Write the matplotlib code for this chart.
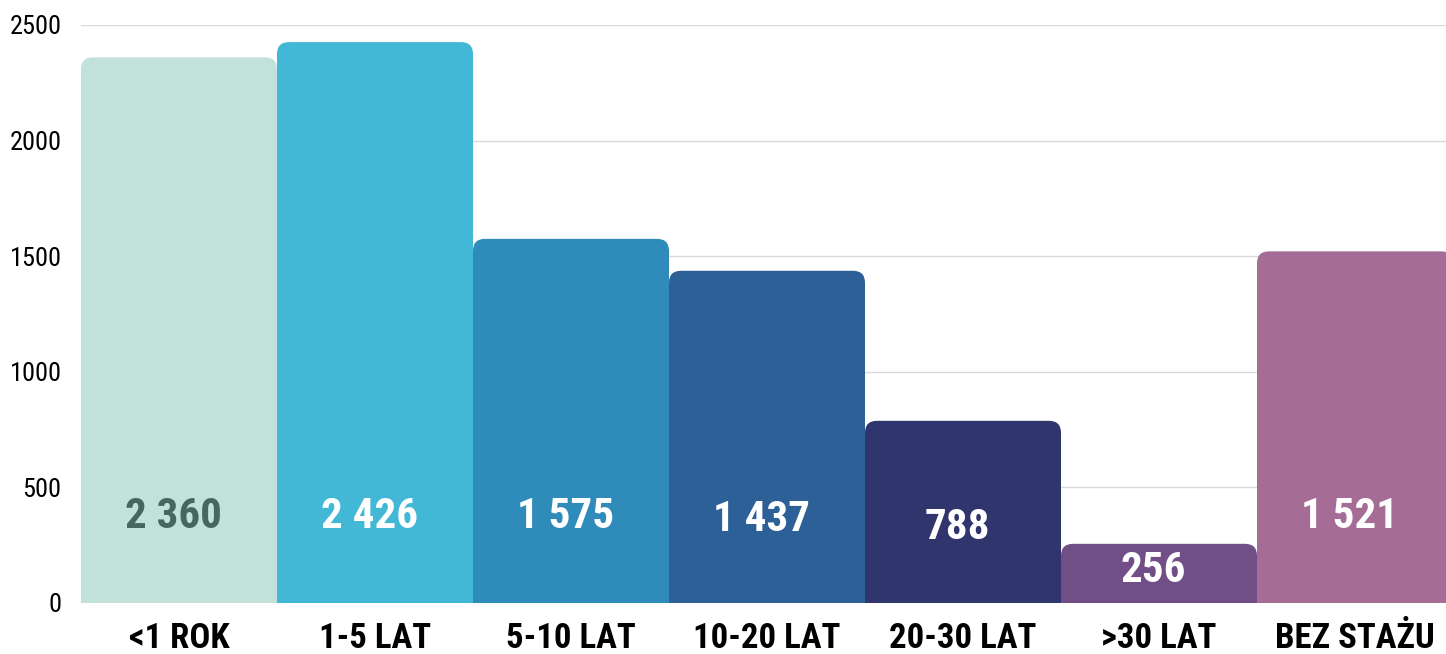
import matplotlib
matplotlib.use('Agg')
import matplotlib.pyplot as plt
from matplotlib.patches import FancyBboxPatch

categories = ['<1 ROK', '1-5 LAT', '5-10 LAT', '10-20 LAT', '20-30 LAT', '>30 LAT', 'BEZ STAŻU']
values = [2360, 2426, 1575, 1437, 788, 256, 1521]
value_labels = ['2 360', '2 426', '1 575', '1 437', '788', '256', '1 521']
colors = ['#C2E1DB', '#42B8D6', '#2E8BBA', '#2E6098', '#31356D', '#724E87', '#A56D96']
label_colors = ['#476660', 'white', 'white', 'white', 'white', 'white', 'white']
label_y = [372, 372, 372, 360, 325, 140, 372]
yticks = [0, 500, 1000, 1500, 2000, 2500]

plt.rcParams['font.family'] = ['Roboto Condensed', 'DejaVu Sans']
plt.rcParams['font.stretch'] = 'condensed'

fig = plt.figure(figsize=(14.46, 6.54), dpi=100)
ax = fig.add_axes([81 / 1446, 1 - 603 / 654, 1372 / 1446, 578 / 654])
ax.set_xlim(-0.5, 6.5)
ax.set_ylim(0, 2500)

# rounded top corners: aspect = y units per x unit at equal pixel size
px_x = 1 / 196.0
px_y = 2500 / 578.0
aspect = px_y / px_x
r = 12 * px_x
for i, (v, c) in enumerate(zip(values, colors)):
    p = FancyBboxPatch((i - 0.5, -200), 1.0, v + 200,
                       boxstyle='round,pad=0,rounding_size=%f' % r,
                       mutation_aspect=aspect, facecolor=c, edgecolor='none',
                       zorder=2)
    ax.add_patch(p)
    ax.text(i - 0.03, label_y[i], value_labels[i], ha='center', va='center',
            fontsize=31, fontweight='bold', color=label_colors[i], zorder=3)

ax.set_yticks(yticks)
ax.set_yticklabels([str(t) for t in yticks], fontsize=19)
ax.set_xticks(range(len(categories)))
ax.set_xticklabels(categories, fontsize=25, fontweight='bold')
ax.tick_params(length=0)
ax.tick_params(axis='y', pad=14)
ax.tick_params(axis='x', pad=14)
ax.grid(axis='y', color='#d9d9d9', linewidth=1, zorder=0)
ax.set_axisbelow(True)
for s in ax.spines.values():
    s.set_visible(False)

fig.savefig('out.png', dpi=100)
